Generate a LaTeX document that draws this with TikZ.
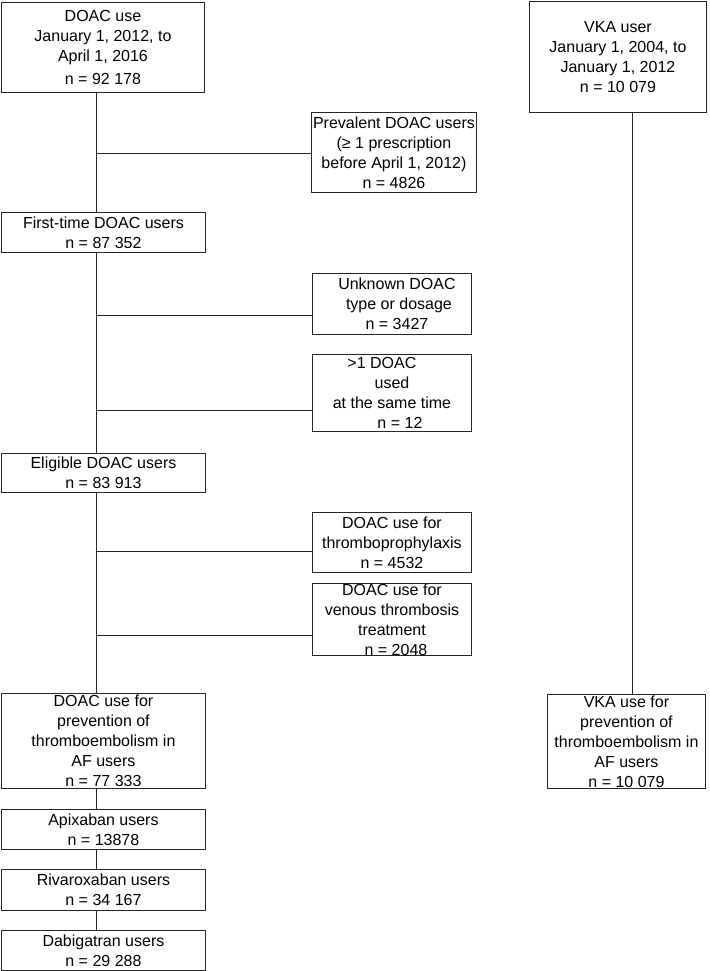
\documentclass[tikz,border=0pt]{standalone}
\usepackage{fontspec}
\setmainfont{Liberation Sans}
\begin{document}
\begin{tikzpicture}[
    x=1pt, y=-1pt,
    line width=0.9pt,
    % box style for every step of the flow chart
    box/.style={
        draw=black!85,
        anchor=north west,
        inner sep=0pt,
        align=center,
        font=\fontsize{16}{20}\selectfont
    }
]
\useasboundingbox (0,0) rectangle (709,971);

% ========================================================
% 1. DOAC column (left)
% ========================================================
\node[box, minimum width=203, minimum height=90] (doac) at (1,2)
    {DOAC use\\January 1, 2012, to\\April 1, 2016\\[3pt]n = 92 178};
\node[box, minimum width=204, minimum height=40] (first) at (1,212)
    {First-time DOAC users\\n = 87 352};
\node[box, minimum width=204, minimum height=39] (elig) at (1,453)
    {Eligible DOAC users\\n = 83 913};
\node[box, minimum width=204, minimum height=95] (afdoac) at (1,693)
    {DOAC use for\\prevention of\\thromboembolism in\\AF users\\n = 77 333};
\node[box, minimum width=204, minimum height=40] (apix) at (1,809)
    {Apixaban users\\n = 13878};
\node[box, minimum width=204, minimum height=41] (riva) at (1,869)
    {Rivaroxaban users\\n = 34 167};
\node[box, minimum width=204, minimum height=40] (dabi) at (1,930)
    {Dabigatran users\\n = 29 288};

% ========================================================
% 2. Exclusions (middle)
% ========================================================
\node[box, minimum width=165, minimum height=80] (prev) at (311,112)
    {Prevalent DOAC users\\(≥ 1 prescription\\before April 1, 2012)\\n = 4826};
\node[box, minimum width=159, minimum height=61] (unk) at (312,273)
    {\hspace*{10pt}Unknown DOAC\\\hspace*{14pt}type or dosage\\\hspace*{10pt}n = 3427};
\node[box, minimum width=159, minimum height=77] (multi) at (312,354)
    {>1 DOAC\hspace*{20pt}\\used\hspace*{12pt}\\at the same time\\\hspace*{16pt}n = 12};
\node[box, minimum width=159, minimum height=60] (proph) at (312,512)
    {DOAC use for\\thromboprophylaxis\\n = 4532};
\node[box, minimum width=159, minimum height=71] (ven) at (312,583)
    {DOAC use for\\venous thrombosis\\treatment\\\hspace*{8pt}n = 2048};

% ========================================================
% 3. VKA column (right)
% ========================================================
\node[box, minimum width=177, minimum height=111] (vka) at (529,1)
    {VKA user\\January 1, 2004, to\\January 1, 2012\\n = 10 079};
\node[box, minimum width=158, minimum height=94] (afvka) at (547,694)
    {VKA use for\\prevention of\\thromboembolism in\\AF users\\n = 10 079};

% ========================================================
% 4. Connectors
% ========================================================
\coordinate (trunk) at (96,0);
\coordinate (vtrunk) at (632,0);

\draw[black!85] (doac.south -| trunk) -- (first.north -| trunk);
\draw[black!85] (first.south -| trunk) -- (elig.north -| trunk);
\draw[black!85] (elig.south -| trunk) -- (afdoac.north -| trunk);
\draw[black!85] (afdoac.south -| trunk) -- (apix.north -| trunk);
\draw[black!85] (apix.south -| trunk) -- (riva.north -| trunk);
\draw[black!85] (riva.south -| trunk) -- (dabi.north -| trunk);
\draw[black!85] (vka.south -| vtrunk) -- (afvka.north -| vtrunk);

% branches to the exclusion boxes
\coordinate (b1) at (96,153);
\coordinate (b2) at (96,315);
\coordinate (b3) at (96,410);
\coordinate (b4) at (96,551);
\coordinate (b5) at (96,635);
\draw[black!85] (b1) -- (b1 -| prev.west);
\draw[black!85] (b2) -- (b2 -| unk.west);
\draw[black!85] (b3) -- (b3 -| multi.west);
\draw[black!85] (b4) -- (b4 -| proph.west);
\draw[black!85] (b5) -- (b5 -| ven.west);

\end{tikzpicture}
\end{document}
